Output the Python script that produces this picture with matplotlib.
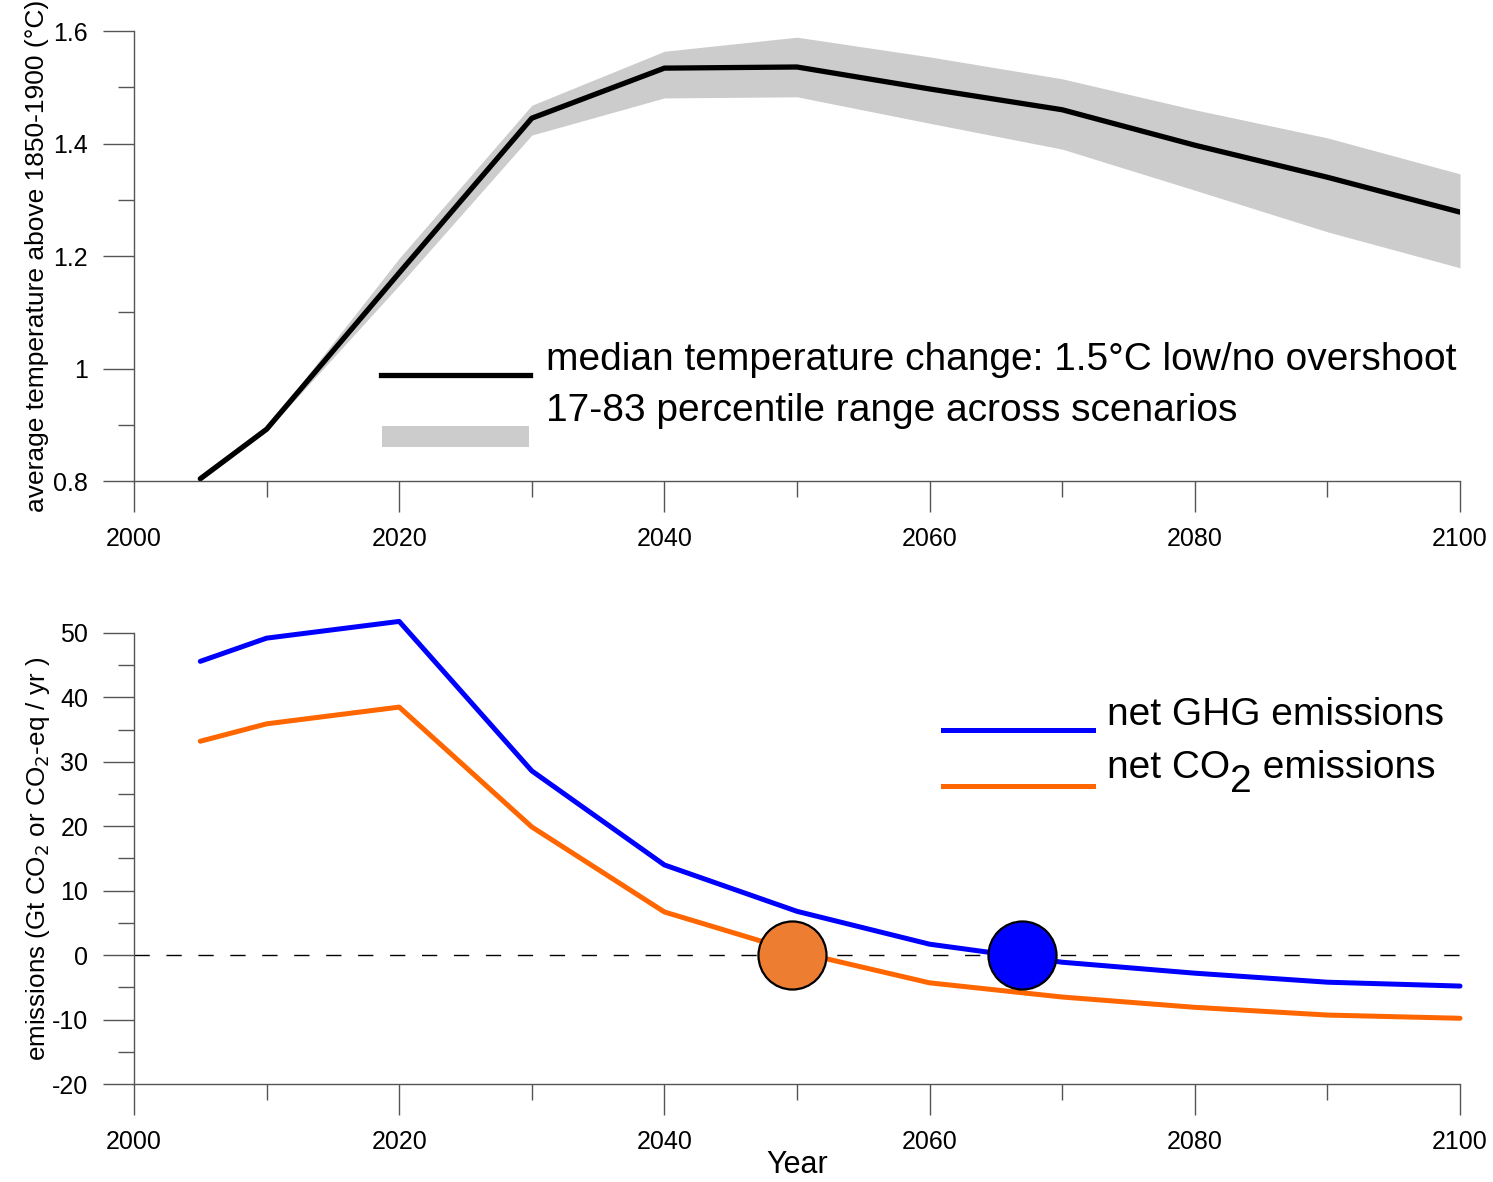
import numpy as np
import matplotlib.pyplot as plt
from matplotlib.ticker import MultipleLocator
from matplotlib.transforms import offset_copy

plt.rcParams['font.family'] = ['Liberation Sans', 'DejaVu Sans']
plt.rcParams['axes.unicode_minus'] = False

# temperature pathway (median and 17-83 percentile band)
years = [2005, 2010, 2020, 2030, 2040, 2050, 2060, 2070, 2080, 2090, 2100]
temp_median = [0.804, 0.892, 1.170, 1.445, 1.534, 1.536, 1.497, 1.460, 1.397, 1.340, 1.278]
temp_p17 = [0.800, 0.889, 1.148, 1.415, 1.481, 1.483, 1.436, 1.390, 1.317, 1.243, 1.179]
temp_p83 = [0.806, 0.895, 1.196, 1.468, 1.564, 1.589, 1.554, 1.515, 1.460, 1.410, 1.346]

# net emissions (Gt CO2 or CO2-eq per year)
ghg = [45.6, 49.2, 51.8, 28.6, 14.0, 6.8, 1.7, -1.1, -2.8, -4.2, -4.8]
co2 = [33.2, 35.9, 38.5, 19.9, 6.7, 0.5, -4.3, -6.5, -8.1, -9.3, -9.8]

# years of reaching net zero
netzero_co2 = 2049.6
netzero_ghg = 2067.0

fig = plt.figure(figsize=(14.93, 11.82), dpi=100)
ax1 = fig.add_axes([0.08975, 0.59306, 0.88815, 0.38071])
ax2 = fig.add_axes([0.08975, 0.08291, 0.88815, 0.38156])

axis_col = '#555555'
for ax in (ax1, ax2):
    for s in ('top', 'right'):
        ax.spines[s].set_visible(False)
    for s in ('left', 'bottom'):
        ax.spines[s].set_color(axis_col)
        ax.spines[s].set_linewidth(1.0)
    ax.set_xlim(2000, 2100)
    ax.xaxis.set_major_locator(MultipleLocator(20))
    ax.xaxis.set_minor_locator(MultipleLocator(10))
    ax.tick_params(which='major', length=22, width=1.0, color=axis_col, labelsize=18, pad=11)
    ax.tick_params(which='minor', length=11.5, width=1.0, color=axis_col)

# top panel
ax1.fill_between(years, temp_p17, temp_p83, color='#cccccc', linewidth=0)
ax1.plot(years, temp_median, color='black', lw=3.8, solid_capstyle='round')
ax1.set_ylim(0.8, 1.6)
ax1.yaxis.set_minor_locator(MultipleLocator(0.1))
ax1.set_yticks([0.8, 1.0, 1.2, 1.4, 1.6])
ax1.set_yticklabels(['0.8', '1', '1.2', '1.4', '1.6'])
ax1.set_ylabel('average temperature above 1850-1900 (°C)', fontsize=19, labelpad=3)

# hand-placed legend for the top panel
ax1.plot([2018.6, 2029.9], [0.988, 0.988], color='black', lw=3.8)
ax1.fill_between([2018.7, 2029.8], 0.860, 0.898, color='#cccccc', linewidth=0)
ax1.text(2031.1, 0.998, 'median temperature change: 1.5°C low/no overshoot',
         fontsize=28, va='baseline', ha='left')
ax1.text(2031.1, 0.906, '17-83 percentile range across scenarios',
         fontsize=28, va='baseline', ha='left')

# bottom panel
ghg_col = '#0000ff'
co2_col = '#ff6600'
ax2.axhline(0, color='black', lw=1.0, dashes=(11, 12))
ax2.plot(years, ghg, color=ghg_col, lw=3.6, solid_capstyle='round', clip_on=False)
ax2.plot(years, co2, color=co2_col, lw=3.6, solid_capstyle='round', clip_on=False)
ax2.plot(netzero_co2, 0, 'o', ms=49, mfc='#ed7d31', mec='black', mew=1.6, zorder=5)
ax2.plot(netzero_ghg, 0, 'o', ms=49, mfc=ghg_col, mec='black', mew=1.6, zorder=5)
ax2.set_ylim(-20, 50)
ax2.yaxis.set_major_locator(MultipleLocator(10))
ax2.yaxis.set_minor_locator(MultipleLocator(5))
ax2.set_ylabel('emissions (Gt CO$_2$ or CO$_2$-eq / yr )', fontsize=18.7, labelpad=0)
ax2.set_xlabel('Year', fontsize=22, labelpad=-3)

# hand-placed legend for the bottom panel
ax2.plot([2061.0, 2072.3], [34.9, 34.9], color=ghg_col, lw=3.6)
ax2.plot([2061.0, 2072.3], [26.2, 26.2], color=co2_col, lw=3.6)
ax2.text(2073.4, 35.7, 'net GHG emissions', fontsize=28, va='baseline', ha='left')

# CO2 label built from pieces so the subscript keeps full size
renderer = fig.canvas.get_renderer()
t1 = ax2.text(2073.4, 27.5, 'net CO', fontsize=28, va='baseline', ha='left')
w1 = t1.get_window_extent(renderer).width * 72 / fig.dpi
t2 = ax2.text(2073.4, 27.5, '2', fontsize=28, va='baseline', ha='left',
              transform=offset_copy(ax2.transData, fig=fig, x=w1, y=-10, units='points'))
w2 = t2.get_window_extent(renderer).width * 72 / fig.dpi
ax2.text(2073.4, 27.5, ' emissions', fontsize=28, va='baseline', ha='left',
         transform=offset_copy(ax2.transData, fig=fig, x=w1 + w2, y=0, units='points'))

fig.savefig('out.png', dpi=100)
